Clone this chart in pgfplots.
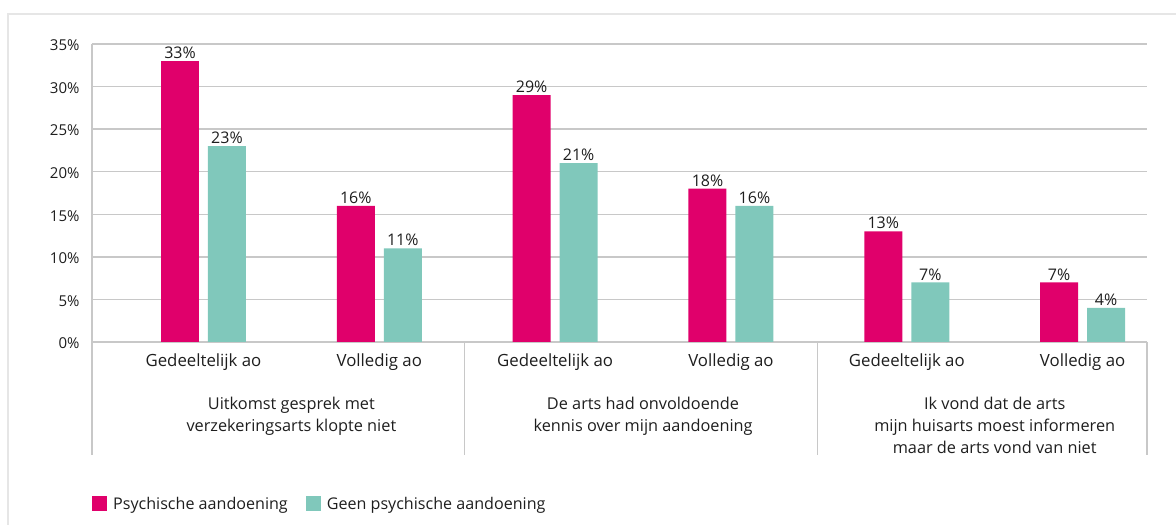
\documentclass[border=0pt]{standalone}
\usepackage{pgfplots}
\pgfplotsset{compat=1.18}
\usepackage{fontspec}
\setmainfont{Open Sans}
\definecolor{pinkc}{RGB}{224,0,107}
\definecolor{tealc}{RGB}{128,200,187}
\definecolor{gridc}{RGB}{200,200,200}
\definecolor{framec}{RGB}{230,230,230}
\definecolor{txt}{RGB}{30,30,30}
\begin{document}
\begin{tikzpicture}[x=1pt,y=1pt]
\useasboundingbox (0,0) rectangle (1176,525);
\draw[framec, line width=1.5pt] (8,0) -- (8,511) -- (1176,511);
\begin{axis}[
  at={(92pt,183pt)}, anchor=south west, scale only axis,
  width=1055pt, height=298pt,
  xmin=-0.634, xmax=5.366, ymin=0, ymax=35,
  ybar, bar width=0.216,
  clip=false,
  ytick={0,5,...,35},
  yticklabel={\pgfmathprintnumber{\tick}\%},
  /pgf/number format/assume math mode=true,
  xtick={0,...,5},
  xticklabels={Gedeeltelijk ao, Volledig ao, Gedeeltelijk ao, Volledig ao, Gedeeltelijk ao, Volledig ao},
  ymajorgrids, grid style={gridc, line width=1.3pt},
  axis line style={draw=none},
  major tick length=0pt,
  tick style={draw=none},
  yticklabel style={font=\fontsize{15}{17}\selectfont, text=txt, xshift=-9pt, yshift=-1.5pt},
  xticklabel style={font=\fontsize{16.8}{19}\selectfont, text=txt, anchor=base, yshift=-24pt},
  nodes near coords={\pgfmathprintnumber{\pgfplotspointmeta}\%},
  nodes near coords style={font=\fontsize{16}{18}\selectfont, text=txt, anchor=south, inner sep=2pt},
  legend style={at={(0,-0.5436)}, anchor=west, draw=none, fill=none, inner sep=0pt,
    legend columns=2, font=\fontsize{16.1}{19}\selectfont, text=txt,
    /tikz/every even column/.append style={column sep=16pt}},
  legend cell align=left,
  legend image code/.code={\fill[#1] (0pt,-7.5pt) rectangle (15pt,8pt); \path (19pt,0pt);},
]
\addplot[fill=pinkc, draw=none, bar shift=-0.1335] coordinates {(0,33) (1,16) (2,29) (3,18) (4,13) (5,7)};
\addlegendentry{Psychische aandoening}
\addplot[fill=tealc, draw=none, bar shift=0.1335] coordinates {(0,23) (1,11) (2,21) (3,16) (4,7) (5,4)};
\addlegendentry{Geen psychische aandoening}
\draw[gridc, line width=1.3pt] (axis cs:-0.634,35) -- ([yshift=-113pt]axis cs:-0.634,0);
\draw[gridc, line width=1.3pt] (axis cs:1.485,0) -- ([yshift=-113pt]axis cs:1.485,0);
\draw[gridc, line width=1.3pt] (axis cs:3.491,0) -- ([yshift=-113pt]axis cs:3.491,0);
\draw[gridc, line width=1.3pt] (axis cs:5.366,0) -- ([yshift=-113pt]axis cs:5.366,0);
\node[align=center, anchor=north, inner sep=0pt, text=txt, font=\fontsize{16.3}{22}\selectfont, yshift=-55pt] at (axis cs:0.5,0) {Uitkomst gesprek met\\verzekeringsarts klopte niet};
\node[align=center, anchor=north, inner sep=0pt, text=txt, font=\fontsize{16.3}{22}\selectfont, yshift=-55pt] at (axis cs:2.5,0) {De arts had onvoldoende\\kennis over mijn aandoening};
\node[align=center, anchor=north, inner sep=0pt, text=txt, font=\fontsize{16.3}{22}\selectfont, yshift=-55pt] at (axis cs:4.5,0) {Ik vond dat de arts\\mijn huisarts moest informeren\\maar de arts vond van niet};
\end{axis}
\end{tikzpicture}
\end{document}
